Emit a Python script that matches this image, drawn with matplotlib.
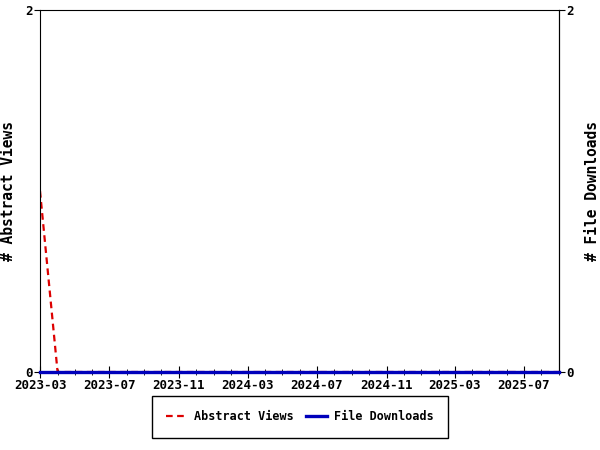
import numpy as np
import pandas as pd
import matplotlib

matplotlib.use("Agg")
import matplotlib.pyplot as plt
import matplotlib.dates as mdates

plt.rcParams["font.family"] = "DejaVu Sans Mono"
plt.rcParams["font.weight"] = "bold"
plt.rcParams["axes.labelweight"] = "bold"

months = pd.date_range("2023-03-01", "2025-09-01", freq="MS")
abstract_views = [1] + [0] * (len(months) - 1)
file_downloads = [0] * len(months)

fig = plt.figure(figsize=(6, 4.5), dpi=100)
ax = fig.add_axes([40 / 600, 1 - 372 / 450, 519 / 600, 362 / 450])
ax2 = ax.twinx()
for side in ["bottom", "top", "left"]:
    ax2.spines[side].set_visible(False)

l1, = ax.plot(months, abstract_views, color="#dd0000", linestyle=(0, (3, 2)), linewidth=1.6,
              label="Abstract Views", zorder=2)
l2, = ax2.plot(months, file_downloads, color="#0000bb", linewidth=2.4, label="File Downloads",
               zorder=5, clip_on=False)

ax.set_xlim(months[0], months[-1])
ax.set_ylim(0, 2)
ax2.set_ylim(0, 2)
ax.set_yticks([0, 2])
ax2.set_yticks([0, 2])
ax.xaxis.set_major_locator(mdates.MonthLocator(bymonth=[3, 7, 11]))
ax.xaxis.set_minor_locator(mdates.MonthLocator())
ax.xaxis.set_major_formatter(mdates.DateFormatter("%Y-%m"))
ax.tick_params(axis="x", which="major", direction="inout", length=8, labelsize=9, pad=1)
ax.tick_params(axis="x", which="minor", direction="inout", length=5)
ax.tick_params(axis="y", length=4, labelsize=9, pad=1)
ax2.tick_params(axis="y", length=4, labelsize=9, pad=1)

ax.set_ylabel("# Abstract Views", fontsize=10.5)
ax2.set_ylabel("# File Downloads", fontsize=10.5)
ax.yaxis.set_label_coords(-24 / 519, 0.5)
ax2.yaxis.set_label_coords(1 + 26 / 519, 0.5)

fig.legend(handles=[l1, l2], loc="center", bbox_to_anchor=(300 / 600, 1 - 417 / 450), ncol=2,
           fancybox=False, edgecolor="black", framealpha=1, fontsize=8.5,
           handlelength=1.8, handletextpad=0.6, columnspacing=1.0, borderpad=1.2)

fig.savefig("out.png", dpi=100)
